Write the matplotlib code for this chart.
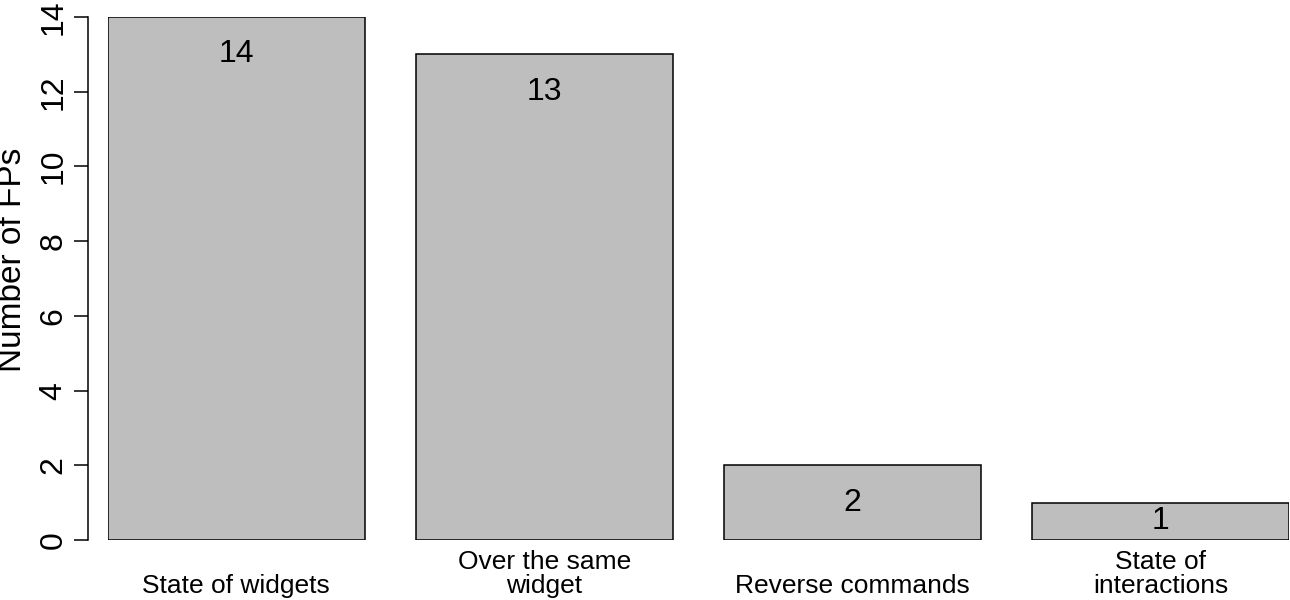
import matplotlib
matplotlib.use("Agg")
import matplotlib.pyplot as plt
import matplotlib.transforms as mtransforms
import numpy as np

categories = ["State of widgets", "Over the same\nwidget", "Reverse commands", "State of\ninteractions"]
values = [14, 13, 2, 1]
yticks = [0, 2, 4, 6, 8, 10, 12, 14]

plt.rcParams['font.family'] = ['Liberation Sans', 'DejaVu Sans']

W, H = 1290, 600
fig = plt.figure(figsize=(W / 100, H / 100), dpi=100)
# plot region in pixels: bars span 108..1289, y from 540 (0) to 17 (14)
ax = fig.add_axes([108 / W, (H - 540) / H, 1181 / W, 523 / H])

# R-style barplot: width 1, space 0.2
x = 0.2 + np.arange(len(values)) * 1.2 + 0.5
ax.bar(x, values, width=1.0, color="#bebebe", edgecolor="black", linewidth=1.1)

# value labels inside the bars
for xi, v in zip(x, values):
    ax.text(xi, max(v - 1, v / 2), str(v), ha="center", va="center", fontsize=23)

ax.set_xlim(0.2, 4.8)
ax.set_ylim(0, 14)

for s in ["top", "right", "bottom"]:
    ax.spines[s].set_visible(False)
ax.spines["left"].set_position(("outward", 20 * 0.72))
ax.spines["left"].set_linewidth(1.1)

ax.set_yticks(yticks)
ax.set_yticklabels([str(t) for t in yticks], rotation=90, va="center", fontsize=23)
ax.tick_params(axis="y", length=10, width=1.1, pad=4)

# category labels below the bars, last line sitting on a common baseline
ax.set_xticks([])
trans = mtransforms.blended_transform_factory(ax.transData, fig.transFigure)
for xi, lab in zip(x, categories):
    ax.text(xi, 2 / H, lab, transform=trans, ha="center", va="bottom",
            fontsize=19, linespacing=1.0)

fig.text(13 / W, 1 - 260 / H, "Number of FPs", rotation=90, ha="center", va="center",
         fontsize=24)

fig.savefig("out.png", dpi=100)
